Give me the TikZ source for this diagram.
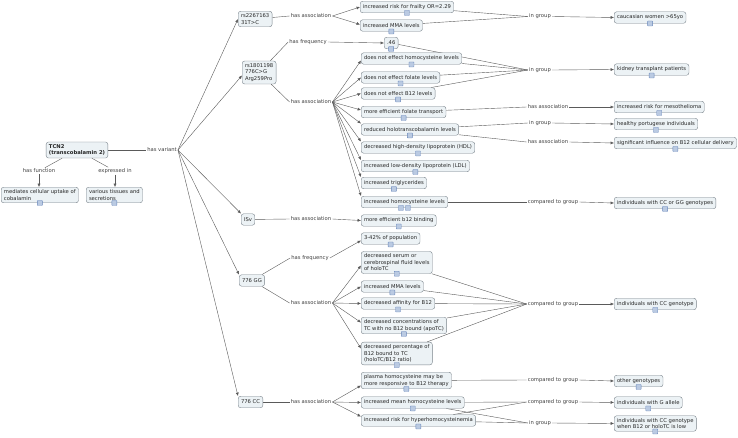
\documentclass[tikz,border=0pt]{standalone}
\usepackage{fontspec}
\setmainfont{DejaVu Sans}
\usetikzlibrary{arrows.meta,backgrounds}
\definecolor{conceptfill}{RGB}{236,242,245}
\definecolor{conceptline}{RGB}{120,130,138}
\definecolor{connline}{RGB}{90,90,90}
\definecolor{iconfill}{RGB}{186,202,226}
\definecolor{iconline}{RGB}{104,134,186}
\tikzset{%
  concept/.style={draw=conceptline, fill=conceptfill, rounded corners=2.5pt, align=left,
    font=\fontsize{5.25}{6.5}\selectfont, text=black!85, inner xsep=2.8pt, inner ysep=2.5pt,
    minimum height=11.5pt},% concept box
  phrase/.style={font=\fontsize{5.25}{6}\selectfont, text=black!75, inner sep=1pt},% linking phrase
  conn/.style={draw=connline, line width=0.4pt},% plain connector
  arr/.style={conn, -{Latex[length=3.4pt,width=3pt]}},% connector with arrow
  icon/.style={draw=iconline, fill=iconfill, minimum size=5pt, inner sep=0pt, rounded corners=0.5pt}% resource icon
}

\begin{document}
\begin{tikzpicture}[x=1pt, y=-1pt]
\useasboundingbox (0,0) rectangle (738,437);

% root
\node[concept] (tcn) at (77,150) {\textbf{TCN2}\\\textbf{(transcobalamin 2)}};
\node[phrase] (hasvar) at (162,150) {has variant};
\node[phrase] (hasfun) at (39,171) {has function};
\node[phrase] (expin) at (115,171) {expressed in};
\node[concept, anchor=west] (mediates) at (1,195) {mediates cellular uptake of\\cobalamin};
\node[concept, anchor=west] (tissues) at (86,195) {various tissues and\\secretions};

% rs2267163
\node[concept, anchor=west] (rsA) at (238,19) {rs2267163\\31T>C};
\node[phrase] (hasassocA) at (311,16) {has association};
\node[concept, anchor=west] (frail) at (360,7) {increased risk for frailty OR=2.29};
\node[concept, anchor=west] (mmaA) at (360,25.5) {increased MMA levels};
\node[phrase] (ingrpA) at (540,16.5) {in group};
\node[concept, anchor=west] (cauc) at (614,17.5) {caucasian women >65yo};

% rs1801198
\node[concept, anchor=west] (rsB) at (242,72.5) {rs1801198\\776C>G\\Arg259Pro};
\node[phrase] (hasfreqB) at (308,42) {has frequency};
\node[concept, anchor=west] (freq) at (384,43) {.46};
\node[phrase] (hasassocB) at (311,102) {has association};
\node[concept, anchor=west] (nohcy) at (361,58.5) {does not effect homocysteine levels};
\node[concept, anchor=west] (nofol) at (361,77.5) {does not effect folate levels};
\node[concept, anchor=west] (nob12) at (361,93.5) {does not effect B12 levels};
\node[concept, anchor=west] (folate) at (361,112) {more efficient folate transport};
\node[concept, anchor=west] (holo) at (361,129.5) {reduced holotranscobalamin levels};
\node[concept, anchor=west] (hdl) at (361,147.5) {decreased high-density lipoprotein (HDL)};
\node[concept, anchor=west] (ldl) at (361,166) {increased low-density lipoprotein (LDL)};
\node[concept, anchor=west] (trig) at (361,183) {increased triglycerides};
\node[concept, anchor=west] (hcyB) at (361,202) {increased homocysteine levels};
\node[phrase] (ingrpB) at (540,70) {in group};
\node[concept, anchor=west] (kidney) at (614,69.5) {kidney transplant patients};
\node[phrase] (hasassocC) at (548,107) {has association};
\node[concept, anchor=west] (meso) at (614,107) {increased risk for mesothelioma};
\node[phrase] (ingrpC) at (540,123) {in group};
\node[concept, anchor=west] (portug) at (614,124) {healthy portugese individuals};
\node[phrase] (hasassocD) at (548,142) {has association};
\node[concept, anchor=west] (deliv) at (614,143) {significant influence on B12 cellular delivery};
\node[phrase] (cmpA) at (553,202) {compared to group};
\node[concept, anchor=west] (ccgg) at (614,203) {individuals with CC or GG genotypes};

% ISv
\node[concept, anchor=west] (isv) at (241,219.5) {ISv};
\node[phrase] (hasassocE) at (311,219) {has association};
\node[concept, anchor=west] (b12bind) at (361,220.5) {more efficient b12 binding};

% 776 GG
\node[concept, anchor=west] (gg) at (239,280.5) {776 GG};
\node[phrase] (hasfreqG) at (310,258) {has frequency};
\node[concept, anchor=west] (pop) at (361,238.5) {3-42\% of population};
\node[phrase] (hasassocG) at (311,303) {has association};
\node[concept, anchor=west] (serum) at (361,262.5) {decreased serum or\\cerebrospinal fluid levels\\of holoTC};
\node[concept, anchor=west] (mmaG) at (361,286.5) {increased MMA levels};
\node[concept, anchor=west] (affin) at (361,303.5) {decreased affinity for B12};
\node[concept, anchor=west] (conc) at (361,325.5) {decreased concentrations of\\TC with no B12 bound (apoTC)};
\node[concept, anchor=west] (perc) at (361,353.5) {decreased percentage of\\B12 bound to TC\\(holoTC/B12 ratio)};
\node[phrase] (cmpG) at (553,304) {compared to group};
\node[concept, anchor=west] (ccgen) at (614,304) {individuals with CC genotype};

% 776 CC
\node[concept, anchor=west] (cc) at (238,402) {776 CC};
\node[phrase] (hasassocH) at (311,402) {has association};
\node[concept, anchor=west] (plasma) at (361,380.5) {plasma homocysteine may be\\more responsive to B12 therapy};
\node[concept, anchor=west] (meanhcy) at (361,402.5) {increased mean homocysteine levels};
\node[concept, anchor=west] (hyper) at (361,420.5) {increased risk for hyperhomocysteinemia};
\node[phrase] (cmpH) at (553,380) {compared to group};
\node[concept, anchor=west] (other) at (614,381) {other genotypes};
\node[phrase] (cmpI) at (553,402) {compared to group};
\node[concept, anchor=west] (gallele) at (614,402.5) {individuals with G allele};
\node[phrase] (ingrpI) at (540,423) {in group};
\node[concept, anchor=west] (lowcc) at (614,423.5) {individuals with CC genotype\\when B12 or holoTC is low};

% resource icons
\node[icon] (mediates-i) at (mediates.south) {};
\node[icon] (tissues-i) at (tissues.south) {};
\node[icon] (frail-i) at (frail.south) {};
\node[icon] (mmaA-i) at (mmaA.south) {};
\node[icon] (cauc-i) at (cauc.south) {};
\node[icon] (freq-i) at (freq.south) {};
\node[icon] (nohcy-i) at (nohcy.south) {};
\node[icon] (nofol-i) at (nofol.south) {};
\node[icon] (nob12-i) at (nob12.south) {};
\node[icon] (folate-i) at (folate.south) {};
\node[icon] (holo-i) at (holo.south) {};
\node[icon] (hdl-i) at (hdl.south) {};
\node[icon] (ldl-i) at (ldl.south) {};
\node[icon] (trig-i) at (trig.south) {};
\node[icon] (hcyB-i) at ([xshift=-3.5pt]hcyB.south) {};
\node[icon] (hcyB-j) at ([xshift=3.5pt]hcyB.south) {};
\node[icon] (kidney-i) at (kidney.south) {};
\node[icon] (meso-i) at (meso.south) {};
\node[icon] (portug-i) at (portug.south) {};
\node[icon] (deliv-i) at (deliv.south) {};
\node[icon] (ccgg-i) at (ccgg.south) {};
\node[icon] (b12bind-i) at (b12bind.south) {};
\node[icon] (pop-i) at (pop.south) {};
\node[icon] (serum-i) at (serum.south) {};
\node[icon] (mmaG-i) at (mmaG.south) {};
\node[icon] (affin-i) at (affin.south) {};
\node[icon] (conc-i) at (conc.south) {};
\node[icon] (perc-i) at (perc.south) {};
\node[icon] (ccgen-i) at (ccgen.south) {};
\node[icon] (plasma-i) at (plasma.south) {};
\node[icon] (meanhcy-i) at (meanhcy.south) {};
\node[icon] (hyper-i) at (hyper.south) {};
\node[icon] (other-i) at (other.south) {};
\node[icon] (gallele-i) at (gallele.south) {};
\node[icon] (lowcc-i) at (lowcc.south) {};

\begin{scope}[on background layer]
% root links
\draw[conn] (tcn) -- (hasvar.west);
\draw[conn] (tcn) -- (hasfun);
\draw[conn] (tcn) -- (expin);
\draw[arr] (hasfun) -- (hasfun |- mediates.north);
\draw[arr] (expin) -- (expin |- tissues.north);
\draw[arr] (hasvar.east) -- (rsA.west);
\draw[arr] (hasvar.east) -- ([yshift=-3pt]rsB.west);
\draw[arr] (hasvar.east) -- (isv.north west);
\draw[arr] (hasvar.east) -- (gg.north west);
\draw[arr] (hasvar.east) -- (cc.north west);

% rs2267163
\draw[conn] (rsA) -- (hasassocA.west);
\draw[arr] (hasassocA.east) -- (frail.west);
\draw[arr] (hasassocA.east) -- ([yshift=1pt]mmaA.west);
\draw[conn] (frail) -- (ingrpA.west);
\draw[conn] (mmaA) -- (ingrpA.west);
\draw[arr] (ingrpA.east) -- (cauc.west);

% rs1801198
\draw[conn] (rsB) -- (hasfreqB.west);
\draw[arr] (hasfreqB.east) -- (freq.west);
\draw[conn] (rsB) -- (hasassocB.west);
\draw[arr] (hasassocB.east) -- ([yshift=-2pt]nohcy.west);
\draw[arr] (hasassocB.east) -- (nofol.west);
\draw[arr] (hasassocB.east) -- (nob12.west);
\draw[arr] (hasassocB.east) -- ([yshift=2pt]folate.west);
\draw[arr] (hasassocB.east) -- (holo.north west);
\draw[arr] (hasassocB.east) -- (hdl.north west);
\draw[arr] (hasassocB.east) -- (ldl.north west);
\draw[arr] (hasassocB.east) -- (trig.north west);
\draw[arr] (hasassocB.east) -- (hcyB.north west);
\draw[conn] (freq) -- (ingrpB.west);
\draw[conn] (nohcy) -- (ingrpB.west);
\draw[conn] (nofol) -- (ingrpB.west);
\draw[conn] (nob12) -- (ingrpB.west);
\draw[arr] (ingrpB.east) -- (kidney.west);
\draw[conn] (folate) -- (hasassocC.west);
\draw[arr] (hasassocC.east) -- (meso.west);
\draw[conn] (holo) -- (ingrpC.west);
\draw[arr] (ingrpC.east) -- (portug.west);
\draw[conn] (holo) -- (hasassocD.west);
\draw[arr] (hasassocD.east) -- (deliv.west);
\draw[conn] (hcyB) -- (cmpA.west);
\draw[arr] (cmpA.east) -- (ccgg.west);

% ISv
\draw[conn] (isv) -- (hasassocE.west);
\draw[arr] (hasassocE.east) -- (b12bind.west);

% 776 GG
\draw[conn] (gg) -- (hasfreqG.west);
\draw[arr] (hasfreqG.east) -- ([yshift=-2pt]pop.west);
\draw[conn] (gg) -- (hasassocG.west);
\draw[arr] (hasassocG.east) -- ([yshift=-3pt]serum.west);
\draw[arr] (hasassocG.east) -- (mmaG.west);
\draw[arr] (hasassocG.east) -- (affin.west);
\draw[arr] (hasassocG.east) -- ([yshift=3pt]conc.west);
\draw[arr] (hasassocG.east) -- ([yshift=5pt]perc.west);
\draw[conn] (serum) -- (cmpG.west);
\draw[conn] (mmaG) -- (cmpG.west);
\draw[conn] (affin) -- (cmpG.west);
\draw[conn] (conc) -- (cmpG.west);
\draw[conn] (perc) -- (cmpG.west);
\draw[arr] (cmpG.east) -- (ccgen.west);

% 776 CC
\draw[conn] (cc) -- (hasassocH.west);
\draw[arr] (hasassocH.east) -- ([yshift=-5pt]plasma.west);
\draw[arr] (hasassocH.east) -- (meanhcy.west);
\draw[arr] (hasassocH.east) -- ([yshift=-2pt]hyper.north west);
\draw[conn] (plasma) -- (cmpH.west);
\draw[arr] (cmpH.east) -- (other.west);
\draw[conn] (meanhcy) -- (cmpI.west);
\draw[conn] (hyper) -- (cmpI.west);
\draw[conn] (meanhcy) -- (ingrpI.west);
\draw[conn] (hyper) -- (ingrpI.west);
\draw[arr] (cmpI.east) -- (gallele.west);
\draw[arr] (ingrpI.east) -- (lowcc.west);
\end{scope}
\end{tikzpicture}
\end{document}
